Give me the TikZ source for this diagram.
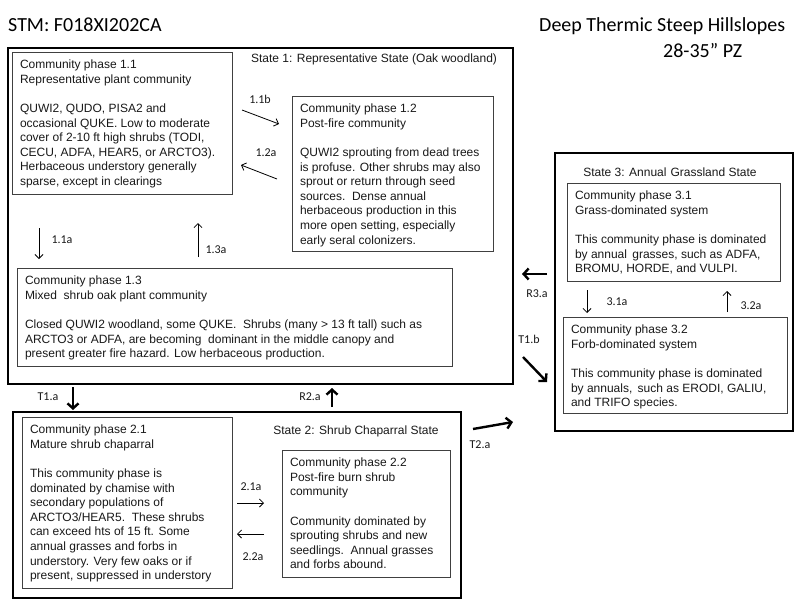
\documentclass[tikz,border=0pt]{standalone}
\usepackage{fontspec}
\setmainfont{Liberation Sans}
\newfontfamily\calfont{Carlito}
\usetikzlibrary{arrows.meta}
\newcommand\phbox[3]{\parbox[b][\dimexpr#2-13pt\relax][t]{\dimexpr#1-16pt\relax}{\begin{tabular}{@{}l@{}}#3\end{tabular}}}
\begin{document}
\begin{tikzpicture}[x=1pt,y=-1pt,
  pbox/.style={draw=black!75, line width=0.9pt, inner xsep=8pt, inner ysep=6.5pt, outer sep=0pt, anchor=north west, font=\fontsize{12}{14.6}\selectfont, text=black!90},
  sbox/.style={draw, line width=2.8pt, inner sep=0pt, outer sep=0pt, anchor=north west},
  slabel/.style={inner sep=0pt, font=\fontsize{12}{14.6}\selectfont, text=black!90},
  alabel/.style={inner sep=0pt, font=\calfont\fontsize{12}{14}\selectfont, text=black!90},
  titletext/.style={inner sep=0pt, font=\calfont\fontsize{20}{24}\selectfont, anchor=base west},
  tarrow/.style={line width=0.8pt, -{Straight Barb[length=4pt,width=8pt]}},
  barrow/.style={line width=2.4pt, -{Straight Barb[length=5pt,width=11pt]}},
]
\fill[white] (0,0) rectangle (800,600);
\useasboundingbox (0,0) rectangle (800,600);

% titles
\node[titletext] (title) at (8,31) {STM: F018XI202CA};
\node[titletext] (site1) at (539,31.5) {Deep Thermic Steep Hillslopes};
\node[titletext] (site2) at (663,57) {28-35” PZ};

% states
\node[sbox, minimum width=505pt, minimum height=336pt] (s1) at (8,48) {};
\node[sbox, minimum width=448pt, minimum height=186pt] (s2) at (13,412) {};
\node[sbox, minimum width=238pt, minimum height=278pt] (s3) at (555,153) {};

\node[slabel] (s1l) at (374,59) {State 1: Representative State (Oak woodland)};
\node[slabel] (s2l) at (356,431) {State 2: Shrub Chaparral State};
\node[slabel] (s3l) at (670,172) {State 3: Annual\,\,Grassland State};

% community phases
\node[pbox] (p11) at (12,52) {\phbox{220pt}{142pt}{Community phase 1.1\\Representative plant community\\[14.6pt]QUWI2, QUDO, PISA2 and\\occasional QUKE. Low to moderate\\cover of 2-10 ft high shrubs (TODI,\\CECU, ADFA, HEAR5, or ARCTO3).\\Herbaceous understory generally\\sparse, except in clearings}};

\node[pbox] (p12) at (292,96) {\phbox{201pt}{155pt}{Community phase 1.2\\Post-fire community\\[14.6pt]QUWI2 sprouting from dead trees\\is profuse. Other shrubs may also\\sprout or return through seed\\sources.\ \ Dense annual\\herbaceous production in this\\more open setting, especially\\early seral colonizers.}};

\node[pbox] (p13) at (17,268) {\phbox{435pt}{98pt}{Community phase 1.3\\Mixed\ \ shrub oak plant community\\[14.6pt]Closed QUWI2 woodland, some QUKE.\ \ Shrubs (many > 13 ft tall) such as\\ARCTO3 or ADFA, are becoming\ \ dominant in the middle canopy and\\present greater fire hazard. Low herbaceous production.}};

\node[pbox] (p21) at (22,417) {\phbox{210pt}{171pt}{Community phase 2.1\\Mature shrub chaparral\\[14.6pt]This community phase is\\dominated by chamise with\\secondary populations of\\ARCTO3/HEAR5.\ \ These shrubs\\can exceed hts of 15 ft. Some\\annual grasses and forbs in\\understory. Very few oaks or if\\present, suppressed in understory}};

\node[pbox] (p22) at (282,450) {\phbox{168pt}{127pt}{Community phase 2.2\\Post-fire burn shrub\\community\\[14.6pt]Community dominated by\\sprouting shrubs and new\\seedlings.\ \ Annual grasses\\and forbs abound.}};

\node[pbox] (p31) at (567,183) {\phbox{213pt}{98pt}{Community phase 3.1\\Grass-dominated system\\[14.6pt]This community phase is dominated\\by annual\, grasses, such as ADFA,\\BROMU, HORDE, and VULPI.}};

\node[pbox] (p32) at (563,317) {\phbox{224pt}{96pt}{Community phase 3.2\\Forb-dominated system\\[14.6pt]This community phase is dominated\\by annuals,\, such as ERODI, GALIU,\\and TRIFO species.}};

% arrow end points
\coordinate (a11b0) at (242,110); \coordinate (a11b1) at (279,124);
\coordinate (a12a0) at (277,179); \coordinate (a12a1) at (241,165);
\coordinate (a11a0) at (39,228);  \coordinate (a11a1) at (39,259);
\coordinate (a13a0) at (198,257); \coordinate (a13a1) at (198,223);
\coordinate (a21a0) at (237,503); \coordinate (a21a1) at (264,503);
\coordinate (a22a0) at (264,534); \coordinate (a22a1) at (237,534);
\coordinate (a31a0) at (587,290); \coordinate (a31a1) at (587,313);
\coordinate (a32a0) at (727,312); \coordinate (a32a1) at (727,291);
\coordinate (r3a0) at (547,274);  \coordinate (r3a1) at (522,274);
\coordinate (t1b0) at (523,357);  \coordinate (t1b1) at (547,382);
\coordinate (t1a0) at (73,387);   \coordinate (t1a1) at (73,410);
\coordinate (r2a0) at (332,407);  \coordinate (r2a1) at (332,388);
\coordinate (t2a0) at (473,429);  \coordinate (t2a1) at (513,422);

\draw[tarrow] (a11b0) -- (a11b1);
\draw[tarrow] (a12a0) -- (a12a1);
\draw[tarrow] (a11a0) -- (a11a1);
\draw[tarrow] (a13a0) -- (a13a1);
\draw[tarrow] (a21a0) -- (a21a1);
\draw[tarrow] (a22a0) -- (a22a1);
\draw[tarrow] (a31a0) -- (a31a1);
\draw[tarrow] (a32a0) -- (a32a1);
\draw[barrow] (r3a0) -- (r3a1);
\draw[barrow] (t1b0) -- (t1b1);
\draw[barrow] (t1a0) -- (t1a1);
\draw[barrow] (r2a0) -- (r2a1);
\draw[barrow] (t2a0) -- (t2a1);

% arrow labels
\node[alabel] (l11b) at (260,99) {1.1b};
\node[alabel] (l12a) at (266,153) {1.2a};
\node[alabel] (l11a) at (62,240) {1.1a};
\node[alabel] (l13a) at (216,250) {1.3a};
\node[alabel] (l21a) at (251,487) {2.1a};
\node[alabel] (l22a) at (253,557) {2.2a};
\node[alabel] (l31a) at (617,302) {3.1a};
\node[alabel] (l32a) at (751,306) {3.2a};
\node[alabel] (lr3a) at (537,294) {R3.a};
\node[alabel] (lt1b) at (529,339) {T1.b};
\node[alabel] (lt1a) at (48,397) {T1.a};
\node[alabel] (lr2a) at (310,397) {R2.a};
\node[alabel] (lt2a) at (480,445) {T2.a};
\end{tikzpicture}
\end{document}
